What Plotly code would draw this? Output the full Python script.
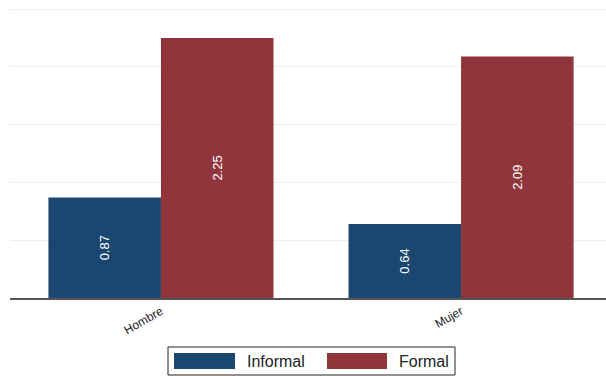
import plotly.graph_objects as go

# Categories and series values
categories = ["Hombre", "Mujer"]
informal = [0.87, 0.64]
formal = [2.25, 2.09]
series_names = ["Informal", "Formal"]

NAVY = "#1a476f"
MAROON = "#90353b"
FONT = "Liberation Sans, Arial, sans-serif"

W, H = 606, 376
ML, MR, MT, MB = 10, 0, 7, 78
plot_w = W - ML - MR
plot_h = H - MT - MB
Y_MAX = 2.5 + 2 / 115.6  # small headroom so the 2.5 gridline is drawn


def px_x(px):
    return (px - ML) / plot_w


def px_y(py):
    return (H - MB - py) / plot_h


fig = go.Figure()
for name, vals, color in [(series_names[0], informal, NAVY), (series_names[1], formal, MAROON)]:
    fig.add_trace(go.Bar(
        x=categories, y=vals, name=name,
        marker=dict(color=color, line=dict(width=0)),
        texttemplate="%{y:.2f}", textposition="inside", insidetextanchor="middle",
        textangle=-90, textfont=dict(color="white", size=13, family=FONT),
        showlegend=False,
    ))

# Legend drawn as a boxed key below the axis
shapes = [dict(type="rect", xref="paper", yref="paper",
               x0=px_x(168), x1=px_x(455), y0=px_y(375), y1=px_y(347),
               line=dict(color="#222", width=1), fillcolor="white")]
annotations = []
for (sx0, sx1, tx), name, color in [((174, 235, 245), series_names[0], NAVY),
                                      ((327, 387, 397), series_names[1], MAROON)]:
    shapes.append(dict(type="rect", xref="paper", yref="paper",
                       x0=px_x(sx0), x1=px_x(sx1), y0=px_y(369), y1=px_y(353),
                       line=dict(width=0), fillcolor=color))
    annotations.append(dict(text=name, xref="paper", yref="paper",
                            x=px_x(tx), y=px_y(361), xanchor="left", yanchor="middle",
                            showarrow=False, font=dict(size=16, color="#222", family=FONT)))

fig.update_layout(
    width=W, height=H,
    margin=dict(l=ML, r=MR, t=MT, b=MB),
    paper_bgcolor="white", plot_bgcolor="white",
    barmode="group", bargap=0.25, bargroupgap=0,
    font=dict(family=FONT, color="#333"),
    shapes=shapes, annotations=annotations,
    xaxis=dict(range=[-0.503, 1.483], showgrid=False, showline=True,
               linecolor="#555", linewidth=1.5, ticks="", ticklen=0,
               tickangle=-30, tickfont=dict(size=12, color="#222", family=FONT)),
    yaxis=dict(range=[0, Y_MAX], dtick=0.5, showgrid=True, gridcolor="#e8eff1",
               gridwidth=1, zeroline=False, showticklabels=False, showline=False),
)

fig.write_html("out.html")
